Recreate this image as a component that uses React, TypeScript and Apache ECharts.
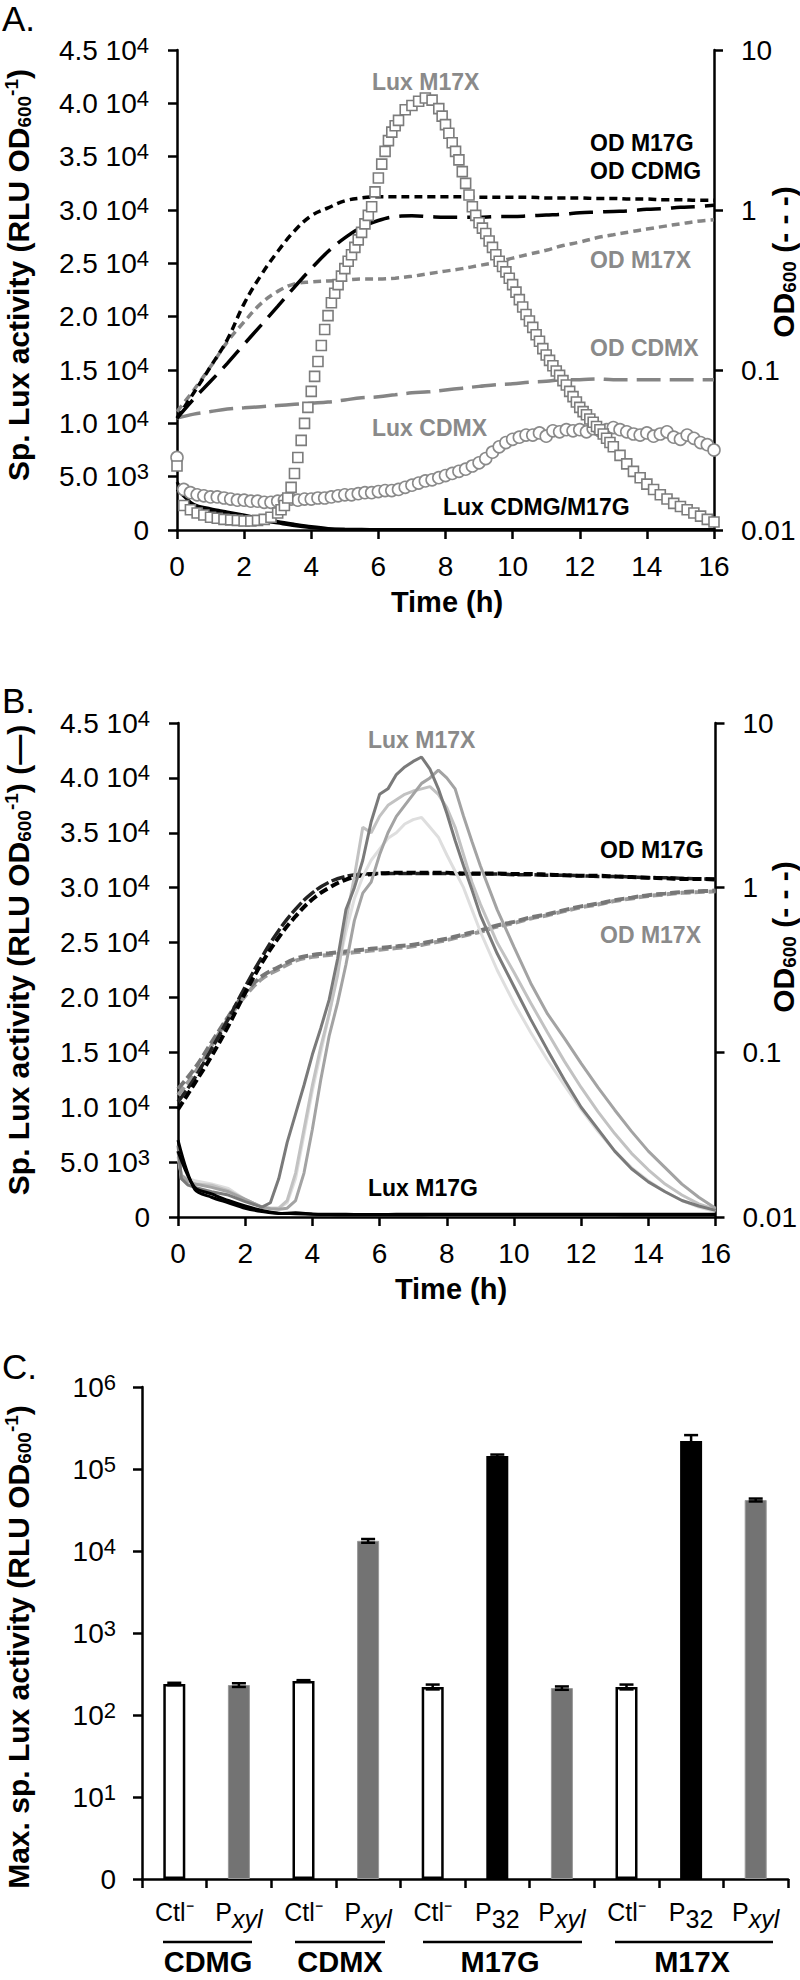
import React, { useEffect, useRef } from 'react';
import * as echarts from 'echarts';

const FONT = "'Liberation Sans', Arial, Helvetica, sans-serif";
const GREY_TXT = '#8a8a8a';

// ---------------- Panel A ----------------
const T_DENSE = [0, 0.2, 0.4, 0.6, 0.8, 1, 1.2, 1.4, 1.6, 1.8, 2, 2.2, 2.4, 2.6, 2.8, 3, 3.2, 3.4, 3.6, 3.8, 4, 4.2, 4.4, 4.6, 4.8, 5, 5.2, 5.4, 5.6, 5.8, 6, 6.2, 6.4, 6.6, 6.8, 7, 7.2, 7.4, 7.6, 7.8, 8, 8.2, 8.4, 8.6, 8.8, 9, 9.2, 9.4, 9.6, 9.8, 10, 10.2, 10.4, 10.6, 10.8, 11, 11.2, 11.4, 11.6, 11.8, 12, 12.2, 12.4, 12.6, 12.8, 13, 13.2, 13.4, 13.6, 13.8, 14, 14.2, 14.4, 14.6, 14.8, 15, 15.2, 15.4, 15.6, 15.8, 16];
const T_HALF = [0, 0.5, 1, 1.5, 2, 2.5, 3, 3.5, 4, 4.5, 5, 5.5, 6, 6.5, 7, 7.5, 8, 8.5, 9, 9.5, 10, 10.5, 11, 11.5, 12, 12.5, 13, 13.5, 14, 14.5, 15, 15.5, 16];
const T_SQ = [0, 0.2, 0.4, 0.6, 0.8, 1, 1.2, 1.4, 1.6, 1.8, 2, 2.2, 2.4, 2.6, 2.8, 3, 3.1, 3.2, 3.3, 3.4, 3.5, 3.6, 3.7, 3.8, 3.9, 4, 4.1, 4.2, 4.3, 4.4, 4.5, 4.6, 4.7, 4.8, 4.9, 5, 5.1, 5.2, 5.3, 5.4, 5.5, 5.6, 5.7, 5.8, 5.9, 6, 6.1, 6.2, 6.3, 6.4, 6.5, 6.6, 6.8, 7, 7.2, 7.4, 7.6, 7.8, 7.9, 8, 8.1, 8.2, 8.3, 8.4, 8.5, 8.6, 8.7, 8.8, 8.9, 9, 9.1, 9.2, 9.3, 9.4, 9.5, 9.6, 9.7, 9.8, 9.9, 10, 10.1, 10.2, 10.3, 10.4, 10.5, 10.6, 10.7, 10.8, 10.9, 11, 11.1, 11.2, 11.3, 11.4, 11.5, 11.6, 11.7, 11.8, 11.9, 12, 12.1, 12.2, 12.3, 12.4, 12.5, 12.6, 12.7, 12.8, 12.9, 13, 13.2, 13.4, 13.6, 13.8, 14, 14.2, 14.4, 14.6, 14.8, 15, 15.2, 15.4, 15.6, 15.8, 16];

const A_LUX_M17X = [6000, 2300, 1900, 1600, 1400, 1200, 1100, 1000, 950, 900, 850, 850, 900, 1000, 1200, 1600, 1900, 2300, 3000, 4000, 5300, 6800, 8400, 10000, 11500, 13000, 14400, 15800, 17300, 18800, 20100, 21300, 22200, 23000, 23800, 24500, 25200, 25800, 26500, 27200, 27900, 28700, 29500, 30300, 31700, 33000, 34300, 35500, 36500, 37300, 37900, 38400, 39400, 39800, 40200, 40500, 40300, 39500, 38800, 38000, 37200, 36300, 35500, 34700, 33600, 32500, 31400, 30300, 29500, 28800, 28300, 27800, 27100, 26500, 25800, 25200, 24700, 24200, 23600, 23000, 22300, 21600, 20900, 20200, 19600, 19000, 18300, 17700, 17000, 16400, 15900, 15400, 14900, 14500, 14000, 13600, 13000, 12500, 12000, 11500, 11100, 10800, 10400, 10100, 9700, 9400, 9000, 8600, 8200, 7800, 7000, 6200, 5500, 4900, 4300, 3800, 3300, 2900, 2500, 2200, 1900, 1600, 1300, 1000, 750];
const A_LUX_CDMX = [6800, 3800, 3500, 3300, 3200, 3100, 3100, 3000, 2900, 2800, 2800, 2700, 2700, 2600, 2600, 2700, 2800, 2900, 2800, 2900, 2900, 3000, 3000, 3100, 3200, 3300, 3300, 3400, 3500, 3500, 3600, 3700, 3700, 3800, 4000, 4200, 4400, 4600, 4700, 4900, 5100, 5300, 5500, 5700, 6000, 6300, 6700, 7300, 7800, 8200, 8500, 8700, 8900, 8900, 9100, 8800, 9300, 9200, 9400, 9300, 9400, 9200, 9500, 9300, 9400, 9600, 9400, 9200, 9000, 8900, 9100, 8800, 9000, 9200, 8700, 8500, 8900, 8600, 8200, 8000, 7500];
const A_LUX_CDMG = [3800, 2400, 2000, 1700, 1400, 1100, 800, 550, 320, 150, 80, 60, 50, 50, 45, 45, 40, 40, 40, 40, 40, 40, 40, 40, 40, 40, 40, 40, 40, 40, 40, 40, 40];
const A_LUX_M17G = [4500, 2200, 1800, 1500, 1200, 900, 650, 400, 220, 100, 60, 50, 50, 50, 50, 50, 50, 50, 50, 50, 50, 50, 50, 50, 50, 50, 50, 50, 50, 50, 50, 50, 50];
const A_OD_M17G = [0.05, 0.072, 0.105, 0.155, 0.26, 0.39, 0.55, 0.74, 0.92, 1.03, 1.14, 1.19, 1.21, 1.21, 1.21, 1.21, 1.21, 1.21, 1.2, 1.2, 1.2, 1.2, 1.19, 1.19, 1.19, 1.18, 1.18, 1.17, 1.17, 1.16, 1.16, 1.15, 1.15];
const A_OD_CDMG = [0.05, 0.066, 0.085, 0.11, 0.145, 0.19, 0.25, 0.33, 0.43, 0.55, 0.67, 0.78, 0.86, 0.91, 0.92, 0.91, 0.9, 0.9, 0.9, 0.91, 0.91, 0.92, 0.93, 0.94, 0.96, 0.97, 0.98, 0.99, 1.01, 1.02, 1.04, 1.05, 1.07];
const A_OD_M17X = [0.055, 0.075, 0.105, 0.15, 0.2, 0.26, 0.31, 0.345, 0.355, 0.36, 0.365, 0.37, 0.37, 0.375, 0.385, 0.4, 0.415, 0.43, 0.45, 0.47, 0.5, 0.53, 0.56, 0.6, 0.63, 0.67, 0.7, 0.73, 0.76, 0.79, 0.82, 0.85, 0.87];
const A_OD_CDMX = [0.05, 0.053, 0.055, 0.057, 0.058, 0.059, 0.06, 0.061, 0.062, 0.063, 0.065, 0.067, 0.068, 0.07, 0.072, 0.073, 0.075, 0.077, 0.079, 0.081, 0.082, 0.084, 0.085, 0.087, 0.087, 0.088, 0.087, 0.087, 0.087, 0.087, 0.087, 0.087, 0.087];

// ---------------- Panel B ----------------
const T_B = [0, 0.1, 0.3, 0.5, 1, 1.5, 2, 2.5, 2.75, 3, 3.25, 3.5, 3.75, 4, 4.25, 4.5, 4.75, 5, 5.25, 5.5, 5.75, 6, 6.25, 6.5, 6.75, 7, 7.25, 7.5, 7.75, 8, 8.25, 8.5, 8.75, 9, 9.5, 10, 10.5, 11, 11.5, 12, 12.5, 13, 13.5, 14, 14.5, 15, 15.5, 16];
const B_LUX_M17X_1 = [6500, 3500, 2900, 2700, 2300, 2000, 1400, 900, 1300, 3500, 6800, 9400, 12000, 14800, 17200, 19800, 23500, 28000, 30000, 32500, 36000, 38500, 39000, 40300, 41000, 41500, 41900, 40800, 39000, 36800, 34300, 32000, 29800, 27500, 24000, 21000, 18000, 15200, 12500, 10000, 8000, 6000, 4400, 3200, 2300, 1500, 1000, 600];
const B_LUX_M17X_2 = [6000, 3800, 3300, 3000, 2700, 2300, 1600, 900, 750, 700, 800, 1500, 4000, 8000, 12500, 16500, 19500, 23000, 27000, 29500, 30500, 33000, 35000, 36500, 37500, 38500, 39500, 40000, 40700, 40000, 39000, 36500, 34200, 32000, 28000, 24600, 21300, 18500, 16300, 14000, 11800, 9750, 7800, 6000, 4500, 3000, 1800, 800];
const B_LUX_M17X_3 = [6000, 3500, 3200, 3000, 2900, 2400, 1600, 900, 800, 800, 1500, 4000, 8000, 12000, 15500, 18500, 22000, 27000, 31000, 35500, 35000, 36500, 37500, 38000, 38500, 38800, 39000, 39200, 38500, 37300, 35500, 33000, 30500, 28500, 25000, 22300, 19500, 16800, 14200, 11800, 9600, 7600, 5800, 4300, 3000, 2000, 1200, 700];
const B_LUX_M17X_4 = [5500, 3800, 3500, 3300, 3000, 2600, 1600, 900, 800, 800, 1300, 3500, 7500, 11500, 15000, 18500, 22500, 26000, 29000, 31000, 32500, 33500, 34500, 35000, 35800, 36200, 36400, 35500, 34600, 33000, 31500, 30000, 28000, 26000, 22500, 19500, 16800, 14300, 12000, 9800, 7800, 6000, 4500, 3300, 2300, 1500, 900, 500];
const B_LUX_M17G_1 = [7000, 2500, 1800, 1300, 800, 500, 320, 380, 280, 250, 240, 230, 230, 240, 240, 250, 250, 250, 250, 250, 260, 260, 260, 250, 250, 250, 250, 250, 250, 240, 240, 240, 240];
const B_LUX_M17G_2 = [6000, 2700, 2100, 1500, 1000, 600, 350, 300, 250, 220, 210, 200, 200, 210, 210, 220, 220, 220, 220, 230, 230, 230, 230, 220, 220, 220, 220, 210, 210, 210, 200, 200, 200];
const B_OD_M17G_1 = [0.045, 0.065, 0.095, 0.145, 0.23, 0.35, 0.5, 0.67, 0.85, 1.0, 1.12, 1.19, 1.22, 1.23, 1.23, 1.23, 1.23, 1.22, 1.22, 1.22, 1.21, 1.21, 1.2, 1.19, 1.18, 1.18, 1.17, 1.16, 1.15, 1.14, 1.13, 1.13, 1.12];
const B_OD_M17G_2 = [0.05, 0.07, 0.105, 0.16, 0.25, 0.38, 0.55, 0.74, 0.93, 1.08, 1.17, 1.21, 1.22, 1.22, 1.22, 1.22, 1.22, 1.21, 1.21, 1.21, 1.2, 1.2, 1.19, 1.19, 1.18, 1.17, 1.17, 1.16, 1.15, 1.15, 1.14, 1.13, 1.13];
const B_OD_M17X_1 = [0.06, 0.08, 0.115, 0.165, 0.23, 0.29, 0.33, 0.37, 0.39, 0.4, 0.41, 0.42, 0.43, 0.44, 0.45, 0.47, 0.49, 0.52, 0.55, 0.59, 0.62, 0.66, 0.69, 0.73, 0.77, 0.8, 0.84, 0.87, 0.9, 0.92, 0.94, 0.95, 0.96];
const B_OD_M17X_2 = [0.055, 0.075, 0.11, 0.16, 0.22, 0.28, 0.32, 0.36, 0.38, 0.39, 0.4, 0.41, 0.42, 0.43, 0.44, 0.46, 0.48, 0.51, 0.54, 0.58, 0.61, 0.65, 0.68, 0.72, 0.76, 0.79, 0.83, 0.86, 0.89, 0.91, 0.93, 0.94, 0.95];

// ---------------- Panel C ----------------
const C_GROUPS = ['CDMG', 'CDMX', 'M17G', 'M17X'];
const C_CATEGORIES = ['CDMG|Ctl', 'CDMG|Pxyl', 'CDMX|Ctl', 'CDMX|Pxyl', 'M17G|Ctl', 'M17G|P32', 'M17G|Pxyl', 'M17X|Ctl', 'M17X|P32', 'M17X|Pxyl'];
const C_MAX_LUX = [239, 232, 260, 13300, 220, 144000, 213, 220, 219000, 41900];
const C_ERR = [8, 12, 6, 700, 15, 6000, 10, 15, 40000, 1700];

const pairs = (t: number[], v: number[]) => t.map((x, i) => [x, v[i]]);

const luxFmt = (v: number) => {
  if (v === 0) return '0';
  const e = v >= 10000 ? 4 : 3;
  return `${(v / Math.pow(10, e)).toFixed(1)} 10{s|${e}}`;
};
const odFmt = (v: number) => String(+v.toPrecision(2));
const logFmt = (v: number) => (v <= 1.0001 ? '0' : `10{s|${Math.round(Math.log10(v))}}`);

const AX = { color: '#000', width: 2.5 };
const TICK_FS = 28;
const supRich = { s: { fontSize: 22, lineHeight: 20, verticalAlign: 'top', color: '#000', fontFamily: FONT } };

const valueX = (gridIndex: number) => ({
  type: 'value', gridIndex, min: 0, max: 16, interval: 2, position: 'bottom',
  axisLine: { show: true, onZero: false, lineStyle: AX },
  axisTick: { show: true, length: 9, lineStyle: AX },
  splitLine: { show: false },
  axisLabel: { fontSize: TICK_FS, color: '#000', fontFamily: FONT, margin: 22 },
});
const luxY = (gridIndex: number) => ({
  type: 'value', gridIndex, min: 0, max: 45000, interval: 5000, position: 'left',
  axisLine: { show: true, onZero: false, lineStyle: AX },
  axisTick: { show: true, length: 9, lineStyle: AX },
  splitLine: { show: false },
  axisLabel: { fontSize: TICK_FS, lineHeight: 32, color: '#000', fontFamily: FONT, margin: 28, formatter: luxFmt, rich: supRich },
});
const odY = (gridIndex: number) => ({
  type: 'log', logBase: 10, gridIndex, min: 0.01, max: 10, position: 'right',
  axisLine: { show: true, onZero: false, lineStyle: AX },
  axisTick: { show: true, length: 9, lineStyle: AX },
  minorTick: { show: false },
  splitLine: { show: false },
  axisLabel: { fontSize: TICK_FS, color: '#000', fontFamily: FONT, margin: 27, formatter: odFmt },
});

const line = (xi: number, yi: number, t: number[], v: number[], color: string, width: number, type: any, smooth: any, z = 2) => ({
  type: 'line', xAxisIndex: xi, yAxisIndex: yi, data: pairs(t, v), symbol: 'none', smooth,
  lineStyle: { color, width, type }, z, silent: true,
});

const titleRich = {
  b: { fontSize: 30, fontWeight: 'bold', fontFamily: FONT, fill: '#000', lineHeight: 32 },
  sub: { fontSize: 19, fontWeight: 'bold', fontFamily: FONT, fill: '#000', lineHeight: 19, verticalAlign: 'bottom' },
  sup: { fontSize: 19, fontWeight: 'bold', fontFamily: FONT, fill: '#000', lineHeight: 19, verticalAlign: 'top' },
};
const vTitle = (x: number, y: number, text: string) => ({
  type: 'text', x, y, rotation: Math.PI / 2, silent: true,
  style: { text, rich: titleRich, align: 'center', verticalAlign: 'middle', textAlign: 'center', textVerticalAlign: 'middle' },
});
const label = (x: number, y: number, text: string, fill: string, fontSize = 23, align = 'left', fontWeight: any = 'bold') => ({
  type: 'text', x, y, silent: true,
  style: { text, fill, fontSize, fontWeight, fontFamily: FONT, align, verticalAlign: 'middle', textAlign: align, textVerticalAlign: 'middle' },
});
const hline = (x1: number, x2: number, y: number) => ({
  type: 'line', silent: true, shape: { x1, y1: y, x2, y2: y }, style: { stroke: '#000', lineWidth: 2.5 },
});

const barStyle = (cat: string) => {
  const t = cat.split('|')[1];
  if (t === 'Ctl') return { color: '#fff', borderColor: '#000', borderWidth: 2.5 };
  if (t === 'P32') return { color: '#000', borderColor: '#000', borderWidth: 0 };
  return { color: '#737373', borderColor: '#999', borderWidth: 1 };
};

const catFmt = (val: string) => {
  const t = val.split('|')[1];
  if (t === 'Ctl') return '{n|Ctl⁻}';
  if (t === 'P32') return '{n|P}{sub|32}';
  return '{n|P}{subi|xyl}';
};

const option: any = {
  animation: false,
  backgroundColor: '#fff',
  textStyle: { fontFamily: FONT },
  grid: [
    { left: 177, top: 50, width: 537, height: 480 },
    { left: 178, top: 723, width: 541, height: 494 },
    { left: 142, top: 1387, width: 646, height: 492 },
  ],
  xAxis: [
    valueX(0),
    valueX(1),
    {
      type: 'category', gridIndex: 2, data: C_CATEGORIES, position: 'bottom',
      axisLine: { show: true, lineStyle: AX },
      axisTick: { show: true, length: 9, lineStyle: AX, alignWithLabel: false },
      axisLabel: {
        interval: 0, margin: 20, formatter: catFmt, color: '#000', fontFamily: FONT, fontSize: 25,
        rich: {
          n: { fontSize: 25, lineHeight: 28, verticalAlign: 'top', color: '#000', fontFamily: FONT },
          sub: { fontSize: 25, lineHeight: 28, verticalAlign: 'top', padding: [7, 0, 0, 0], color: '#000', fontFamily: FONT },
          subi: { fontSize: 25, lineHeight: 28, verticalAlign: 'top', padding: [7, 0, 0, 0], color: '#000', fontFamily: FONT, fontStyle: 'italic' },
        },
      },
    },
  ],
  yAxis: [
    luxY(0),
    odY(0),
    luxY(1),
    odY(1),
    {
      type: 'log', logBase: 10, gridIndex: 2, min: 1, max: 1000000, position: 'left',
      axisLine: { show: true, onZero: false, lineStyle: AX },
      axisTick: { show: true, length: 9, lineStyle: AX },
      minorTick: { show: false }, splitLine: { show: false },
      axisLabel: { fontSize: TICK_FS, lineHeight: 32, color: '#000', fontFamily: FONT, margin: 26, formatter: logFmt, rich: supRich },
    },
  ],
  series: [
    // Panel A
    line(0, 1, T_HALF, A_OD_CDMX, '#858585', 3.5, [24, 9], 0.4),
    line(0, 1, T_HALF, A_OD_M17X, '#858585', 3.5, [8, 5], 0.4),
    line(0, 1, T_HALF, A_OD_CDMG, '#000', 3.5, [24, 10], 0.4),
    line(0, 1, T_HALF, A_OD_M17G, '#000', 3.5, [8, 5], 0.4),
    line(0, 0, T_HALF, A_LUX_CDMG, '#000', 3, 'solid', 0.3, 3),
    line(0, 0, T_HALF, A_LUX_M17G, '#000', 3, 'solid', 0.3, 3),
    {
      type: 'scatter', xAxisIndex: 0, yAxisIndex: 0, data: pairs(T_DENSE, A_LUX_CDMX), symbol: 'circle', symbolSize: 12,
      itemStyle: { color: '#fff', borderColor: '#8a8a8a', borderWidth: 1.6, opacity: 1 }, z: 4, silent: true,
    },
    {
      type: 'scatter', xAxisIndex: 0, yAxisIndex: 0, data: pairs(T_SQ, A_LUX_M17X), symbol: 'rect', symbolSize: 10,
      itemStyle: { color: '#fff', borderColor: '#7c7c7c', borderWidth: 1.6, opacity: 1 }, z: 5, silent: true,
    },
    // Panel B
    line(1, 3, T_HALF, B_OD_M17X_2, '#9a9a9a', 4, [10, 4], 0.4),
    line(1, 3, T_HALF, B_OD_M17X_1, '#777', 4, [10, 4], 0.4),
    line(1, 3, T_HALF, B_OD_M17G_2, '#222', 3.5, [14, 3], 0.4),
    line(1, 3, T_HALF, B_OD_M17G_1, '#000', 4, [9, 4], 0.4),
    line(1, 2, T_B, B_LUX_M17X_4, '#dedede', 3, 'solid', false, 3),
    line(1, 2, T_B, B_LUX_M17X_3, '#c2c2c2', 3, 'solid', false, 3),
    line(1, 2, T_B, B_LUX_M17X_2, '#a3a3a3', 3, 'solid', false, 3),
    line(1, 2, T_B, B_LUX_M17X_1, '#7a7a7a', 3, 'solid', false, 3),
    line(1, 2, T_HALF, B_LUX_M17G_2, '#000', 3, 'solid', 0.3, 3),
    line(1, 2, T_HALF, B_LUX_M17G_1, '#000', 3, 'solid', 0.3, 3),
    // Panel C
    {
      type: 'bar', xAxisIndex: 2, yAxisIndex: 4, barWidth: 22, silent: true,
      data: C_MAX_LUX.map((v, i) => ({ value: v, itemStyle: barStyle(C_CATEGORIES[i]) })),
    },
    {
      type: 'custom', xAxisIndex: 2, yAxisIndex: 4, silent: true, z: 5,
      data: C_MAX_LUX.map((v, i) => [i, v - C_ERR[i], v + C_ERR[i]]),
      encode: { x: 0, y: [1, 2] },
      renderItem: (params: any, api: any) => {
        const i = api.value(0);
        const top = api.coord([i, api.value(2)]);
        const bot = api.coord([i, api.value(1)]);
        const w = 7;
        const st = { stroke: '#000', lineWidth: 2.5 };
        return {
          type: 'group',
          children: [
            { type: 'line', shape: { x1: top[0], y1: top[1], x2: bot[0], y2: bot[1] }, style: st },
            { type: 'line', shape: { x1: top[0] - w, y1: top[1], x2: top[0] + w, y2: top[1] }, style: st },
            { type: 'line', shape: { x1: bot[0] - w, y1: bot[1], x2: bot[0] + w, y2: bot[1] }, style: st },
          ],
        };
      },
    },
  ],
  graphic: [
    label(2, 18, 'A.', '#000', 35, 'left', 'normal'),
    label(2, 700, 'B.', '#000', 35, 'left', 'normal'),
    label(2, 1366, 'C.', '#000', 35, 'left', 'normal'),
    // Panel A titles
    vTitle(18, 275, '{b|Sp. Lux activity (RLU OD}{sub|600}{sup|-1}{b|)}'),
    vTitle(783, 262, '{b|OD}{sub|600}{b| (- - -)}'),
    label(447, 602, 'Time (h)', '#000', 29, 'center'),
    // Panel A annotations
    label(372, 82, 'Lux M17X', GREY_TXT),
    label(590, 143, 'OD M17G', '#000'),
    label(590, 171, 'OD CDMG', '#000'),
    label(590, 260, 'OD M17X', GREY_TXT),
    label(590, 348, 'OD CDMX', GREY_TXT),
    label(372, 428, 'Lux CDMX', GREY_TXT),
    label(443, 507, 'Lux CDMG/M17G', '#000'),
    // Panel B titles
    vTitle(18, 960, '{b|Sp. Lux activity (RLU OD}{sub|600}{sup|-1}{b|) (—)}'),
    vTitle(783, 937, '{b|OD}{sub|600}{b| (- - -)}'),
    label(451, 1289, 'Time (h)', '#000', 29, 'center'),
    // Panel B annotations
    label(368, 740, 'Lux M17X', GREY_TXT),
    label(600, 850, 'OD M17G', '#000'),
    label(600, 935, 'OD M17X', GREY_TXT),
    label(368, 1188, 'Lux M17G', '#000'),
    // Panel C
    vTitle(18, 1647, '{b|Max. sp. Lux activity (RLU OD}{sub|600}{sup|-1}{b|)}'),
    hline(163, 252, 1942),
    hline(295, 385, 1942),
    hline(423, 582, 1942),
    hline(615, 773, 1942),
    label(208, 1962, C_GROUPS[0], '#000', 29, 'center'),
    label(340, 1962, C_GROUPS[1], '#000', 29, 'center'),
    label(500, 1962, C_GROUPS[2], '#000', 29, 'center'),
    label(692, 1962, C_GROUPS[3], '#000', 29, 'center'),
  ],
};

export default function App() {
  const ref = useRef<HTMLDivElement>(null);
  useEffect(() => {
    document.body.style.margin = '0';
    const chart = echarts.init(ref.current as HTMLDivElement, null, { renderer: 'svg', width: 800, height: 1980 });
    chart.setOption(option);
    return () => chart.dispose();
  }, []);
  return <div ref={ref} style={{ width: 800, height: 1980, background: '#fff' }} />;
}
